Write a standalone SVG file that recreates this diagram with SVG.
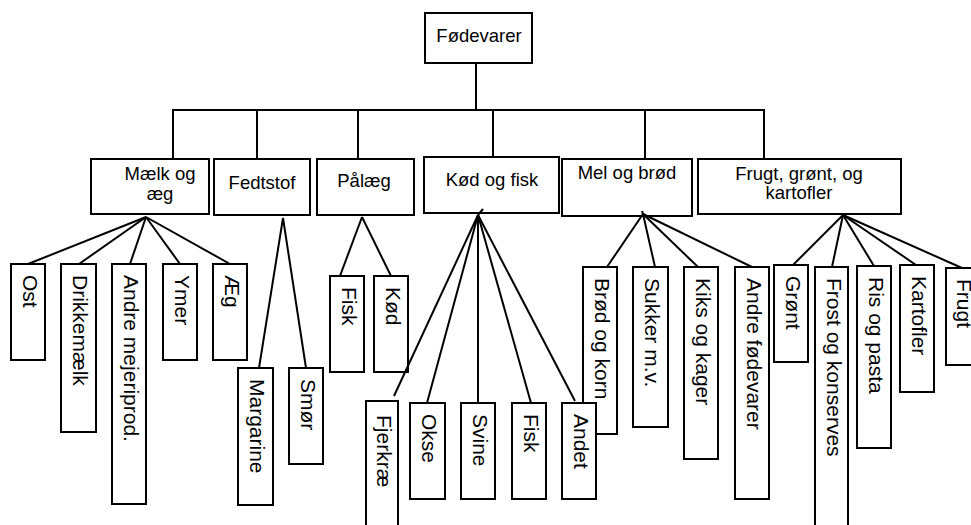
<svg xmlns="http://www.w3.org/2000/svg" width="971" height="525" viewBox="0 0 971 525">
<style>
rect{fill:#fff;stroke:#000;stroke-width:2}
.c line{stroke:#000;stroke-width:2}
text{font-family:"Liberation Sans",Arial,sans-serif;fill:#000}
.h{font-size:18.5px;text-anchor:middle}
.v{font-size:21px}
</style>
<rect x="0" y="0" width="971" height="525" style="stroke:none"/>
<g id="n-root"><rect x="425" y="13" width="107" height="50"/><text class="h" x="479" y="42">Fødevarer</text></g>
<g id="n-maelk"><rect x="91" y="159" width="118" height="55"/><text class="h" x="160" y="180">Mælk og</text><text class="h" x="160" y="200">æg</text></g>
<g id="n-fedt"><rect x="214" y="159" width="96" height="56"/><text class="h" x="262" y="189">Fedtstof</text></g>
<g id="n-palaeg"><rect x="317" y="159" width="97" height="56"/><text class="h" x="364" y="187">Pålæg</text></g>
<g id="n-kod"><rect x="424" y="157" width="135" height="56"/><text class="h" x="492" y="186">Kød og fisk</text></g>
<g id="n-mel"><rect x="562" y="159" width="130" height="57"/><text class="h" x="627" y="179">Mel og brød</text></g>
<g id="n-frugt"><rect x="698" y="159" width="203" height="55"/><text class="h" x="799" y="180">Frugt, grønt, og</text><text class="h" x="799" y="199">kartofler</text></g>

<g id="l-ost"><rect x="11" y="264" width="34" height="96"/><text class="v" transform="translate(23,275) rotate(90)">Ost</text></g>
<g id="l-drikke"><rect x="61" y="264" width="35" height="168"/><text class="v" transform="translate(73,275) rotate(90)">Drikkemælk</text></g>
<g id="l-andremej"><rect x="112" y="264" width="34" height="240"/><text class="v" transform="translate(124,275) rotate(90)">Andre mejeriprod.</text></g>
<g id="l-ymer"><rect x="163" y="264" width="34" height="96"/><text class="v" transform="translate(175,275) rotate(90)">Ymer</text></g>
<g id="l-aeg"><rect x="213" y="264" width="34" height="96"/><text class="v" transform="translate(225,275) rotate(90)">Æg</text></g>
<g id="l-margarine"><rect x="238" y="368" width="35" height="137"/><text class="v" transform="translate(250,379) rotate(90)">Margarine</text></g>
<g id="l-smor"><rect x="289" y="368" width="34" height="96"/><text class="v" transform="translate(301,379) rotate(90)">Smør</text></g>
<g id="l-pfisk"><rect x="330" y="276" width="34" height="96"/><text class="v" transform="translate(342,287) rotate(90)">Fisk</text></g>
<g id="l-pkod"><rect x="374" y="276" width="34" height="96"/><text class="v" transform="translate(386,287) rotate(90)">Kød</text></g>
<g id="l-brod"><rect x="583" y="267" width="34" height="167"/><text class="v" transform="translate(595,278) rotate(90)">Brød og korn</text></g>
<g id="l-sukker"><rect x="633" y="267" width="35" height="160"/><text class="v" transform="translate(645,278) rotate(90)">Sukker m.v.</text></g>
<g id="l-kiks"><rect x="684" y="267" width="34" height="192"/><text class="v" transform="translate(696,278) rotate(90)">Kiks og kager</text></g>
<g id="l-andrefod"><rect x="735" y="267" width="34" height="232"/><text class="v" transform="translate(747,278) rotate(90)">Andre fødevarer</text></g>
<g id="l-fjerkrae"><rect x="366" y="401" width="32" height="140"/><text class="v" transform="translate(377,415) rotate(90)">Fjerkræ</text></g>
<g id="l-okse"><rect x="410" y="403" width="35" height="96"/><text class="v" transform="translate(422,414) rotate(90)">Okse</text></g>
<g id="l-svine"><rect x="461" y="403" width="34" height="96"/><text class="v" transform="translate(473,414) rotate(90)">Svine</text></g>
<g id="l-kfisk"><rect x="512" y="403" width="34" height="96"/><text class="v" transform="translate(524,414) rotate(90)">Fisk</text></g>
<g id="l-andet"><rect x="562" y="403" width="34" height="96"/><text class="v" transform="translate(574,414) rotate(90)">Andet</text></g>
<g id="l-gront"><rect x="774" y="265" width="34" height="97"/><text class="v" transform="translate(786,276) rotate(90)">Grønt</text></g>
<g id="l-frost"><rect x="815" y="267" width="33" height="280"/><text class="v" transform="translate(827,278) rotate(90)">Frost og konserves</text></g>
<g id="l-ris"><rect x="857" y="266" width="34" height="182"/><text class="v" transform="translate(869,277) rotate(90)">Ris og pasta</text></g>
<g id="l-kartofler"><rect x="900" y="265" width="34" height="127"/><text class="v" transform="translate(912,276) rotate(90)">Kartofler</text></g>
<g id="l-frugt"><rect x="946" y="268" width="40" height="97"/><text class="v" transform="translate(957,279) rotate(90)">Frugt</text></g>

<g class="c" id="connectors">
<line x1="476" y1="62" x2="476" y2="111"/>
<line x1="172" y1="110" x2="765" y2="110"/>
<line x1="173" y1="110" x2="173" y2="159"/>
<line x1="257" y1="110" x2="257" y2="159"/>
<line x1="358" y1="110" x2="358" y2="159"/>
<line x1="493" y1="110" x2="493" y2="157"/>
<line x1="645" y1="110" x2="645" y2="159"/>
<line x1="764" y1="110" x2="764" y2="159"/>
<line x1="146" y1="217" x2="28" y2="264"/>
<line x1="146" y1="217" x2="79" y2="264"/>
<line x1="146" y1="217" x2="130" y2="264"/>
<line x1="146" y1="217" x2="180" y2="264"/>
<line x1="146" y1="217" x2="230" y2="264"/>
<line x1="283" y1="218" x2="259" y2="368"/>
<line x1="283" y1="218" x2="306" y2="368"/>
<line x1="362" y1="217" x2="340" y2="276"/>
<line x1="362" y1="217" x2="391" y2="276"/>
<line x1="483" y1="209" x2="478" y2="215"/>
<line x1="478" y1="215" x2="394" y2="396"/>
<line x1="478" y1="215" x2="427" y2="403"/>
<line x1="478" y1="215" x2="478" y2="403"/>
<line x1="478" y1="215" x2="531" y2="403"/>
<line x1="478" y1="215" x2="575" y2="401"/>
<line x1="642" y1="211" x2="643" y2="214"/>
<line x1="643" y1="214" x2="607" y2="267"/>
<line x1="643" y1="214" x2="655" y2="267"/>
<line x1="643" y1="214" x2="698" y2="267"/>
<line x1="643" y1="214" x2="752" y2="267"/>
<line x1="843" y1="215" x2="793" y2="265"/>
<line x1="843" y1="215" x2="832" y2="267"/>
<line x1="843" y1="215" x2="874" y2="266"/>
<line x1="843" y1="215" x2="916" y2="265"/>
<line x1="843" y1="215" x2="962" y2="268"/>
</g>
</svg>
